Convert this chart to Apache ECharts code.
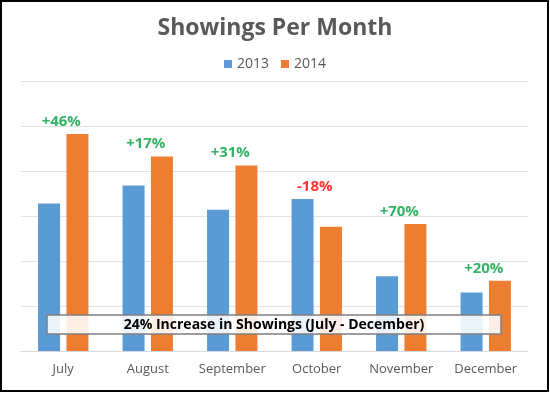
<!DOCTYPE html>
<html>
<head>
<meta charset="utf-8">
<script src="https://cdn.jsdelivr.net/npm/echarts@6/dist/echarts.min.js"></script>
<style>
html,body{margin:0;padding:0;background:#fff;}
#chart{width:550px;height:393px;}
</style>
</head>
<body>
<div id="chart"></div>
<script>
var months = ['July','August','September','October','November','December'];
var showings2013 = [164, 184, 157, 169, 83, 65];
var showings2014 = [241, 216, 206, 138, 141, 78];
var changeLabels = ['+46%','+17%','+31%','-18%','+70%','+20%'];
var summaryText = '24% Increase in Showings (July - December)';

var FONT = '"Open Sans", "Noto Sans", sans-serif';
var labelPoints = months.map(function(m, i){
  var up = changeLabels[i].charAt(0) === '+';
  return {
    value: Math.max(showings2013[i], showings2014[i]),
    label: {
      formatter: changeLabels[i],
      color: up ? '#00A03C' : '#FF0000'
    }
  };
});

var chart = echarts.init(document.getElementById('chart'), null, {renderer:'canvas'});
chart.setOption({
  animation: false,
  backgroundColor: '#ffffff',
  title: {
    text: 'Showings Per Month',
    left: 'center',
    top: 12,
    textStyle: {fontFamily: FONT, fontSize: 23, fontWeight: 'bold', color: '#595959'}
  },
  legend: {
    top: 52,
    left: 'center',
    itemWidth: 8,
    itemHeight: 8,
    itemGap: 12,
    icon: 'rect',
    data: ['2013','2014'],
    textStyle: {fontFamily: FONT, fontSize: 14, color: '#595959'}
  },
  grid: {left: 21, right: 22, top: 81, bottom: 42},
  xAxis: {
    type: 'category',
    data: months,
    axisTick: {show: false},
    axisLine: {lineStyle: {color: '#d9d9d9'}},
    axisLabel: {interval: 0, fontFamily: FONT, fontSize: 13, color: '#595959', margin: 12}
  },
  yAxis: {
    type: 'value',
    min: 0, max: 300, interval: 50,
    axisLabel: {show: false},
    axisLine: {show: false},
    axisTick: {show: false},
    splitLine: {lineStyle: {color: '#e3e3e3'}}
  },
  series: [
    {name: '2013', type: 'bar', data: showings2013, barWidth: 22, barGap: '29%',
     itemStyle: {color: '#5B9BD5'}},
    {name: '2014', type: 'bar', data: showings2014, barWidth: 22,
     itemStyle: {color: '#ED7D31'}},
    {name: 'change', type: 'scatter', data: labelPoints, symbolSize: 0,
     silent: true,
     label: {show: true, position: 'top', distance: 5, offset: [-2, 0],
             fontFamily: FONT, fontSize: 15, fontWeight: 'bold'}}
  ],
  graphic: [
    {type: 'rect', z: 100, shape: {x: 47, y: 315, width: 454, height: 19},
     style: {fill: 'rgba(255,255,255,0.88)', stroke: '#7f7f7f', lineWidth: 1.5}},
    {type: 'text', z: 101, x: 274, y: 325,
     style: {text: summaryText, fontFamily: FONT, fontSize: 14, fontWeight: 'bold',
             fill: '#000', align: 'center', verticalAlign: 'middle'}},
    {type: 'rect', z: 102, shape: {x: 1, y: 1, width: 547, height: 390},
     style: {fill: 'none', stroke: '#000', lineWidth: 2}}
  ]
});
</script>
</body>
</html>
